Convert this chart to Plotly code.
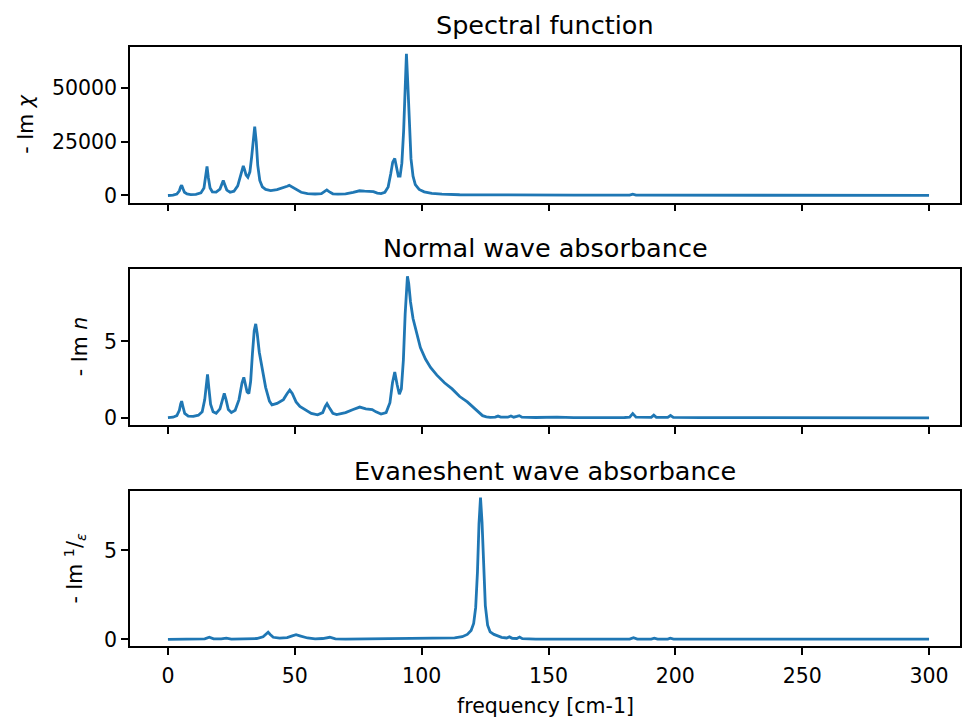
import plotly.graph_objects as go

# ---------------- data ----------------
freq_chi = [0, 2, 3.5, 4.5, 5.0, 5.4, 5.9, 6.5, 7.5, 9, 11, 13, 14.2, 14.9, 15.4, 15.9, 16.6, 17.5,
            19, 20.5, 21.2, 21.8, 22.4, 23.2, 24.5, 26, 27.5, 28.6, 29.3, 29.7, 30.2, 30.8, 31.5,
            32.3, 33.0, 33.6, 34.2, 34.8, 35.4, 36.2, 37.2, 38.5, 40.5, 43, 45.5, 47, 47.8, 48.8,
            50.5, 52.5, 55, 58, 60.5, 61.8, 62.6, 63.5, 65, 67, 70, 73, 75.5, 77.5, 79.5, 81, 82.5,
            84, 85.5, 86.8, 87.8, 88.6, 89.4, 90.1, 90.8, 91.5, 92.2, 92.9, 93.5, 94.0, 94.5, 95.1,
            95.8, 96.6, 97.5, 99, 101, 104, 108, 115, 125, 140, 160, 182, 183.2, 184.5, 190.5,
            191.5, 192.5, 197, 198.1, 199.2, 210, 250, 300]
im_chi = [0, 150, 700, 2200, 4000, 4800, 3200, 1500, 700, 450, 550, 1200, 3500, 9000, 13500, 8500,
          3500, 1700, 1600, 3000, 5500, 7000, 5000, 2500, 1500, 2000, 4500, 9500, 13000, 13700,
          12000, 9500, 8500, 11000, 18000, 27000, 32000, 25000, 14000, 7000, 4000, 2800, 2300,
          2700, 3500, 4300, 4700, 4000, 2500, 1500, 900, 700, 900, 1800, 2600, 1800, 800, 600,
          800, 1500, 2200, 2000, 2000, 1800, 1100, 900, 1500, 4000, 10000, 15500, 17200, 13000,
          9000, 9000, 15000, 30000, 52000, 65800, 53000, 32000, 17000, 9000, 5000, 2800, 1700,
          1000, 600, 350, 250, 200, 150, 150, 600, 150, 150, 400, 150, 120, 400, 120, 100, 80, 60]

freq_n = [0, 2, 3.5, 4.5, 5.0, 5.4, 5.9, 6.6, 8, 10, 12, 13.5, 14.5, 15.1, 15.6, 16.1, 16.8, 17.8,
          19, 20.5, 21.5, 22.2, 22.9, 23.8, 25, 26.5, 28, 29.2, 29.9, 30.5, 31.2, 31.9, 32.6, 33.3,
          34.0, 34.6, 35.2, 36, 37, 38.5, 40, 41, 43, 45.5, 47, 48, 49, 50.5, 52, 54, 56.5, 59, 61,
          62, 62.7, 63.5, 65, 66.5, 70, 73, 75.6, 78, 80.5, 82, 84, 86, 87.5, 88.5, 89.4, 90.3,
          91.2, 92, 92.8, 93.5, 94.0, 94.4, 94.9, 95.6, 96.6, 98, 99.5, 101.5, 103.5, 106, 109,
          112, 115, 118, 120.5, 122.5, 124, 125.5, 127, 129, 130.1, 131.2, 134, 135.2, 136.3,
          137.5, 138.5, 139.5, 145, 153.4, 160, 180, 182, 183.2, 184.5, 190.5, 191.5, 192.5, 197,
          198.1, 199.2, 210, 250, 300]
im_n = [0.02, 0.05, 0.15, 0.5, 0.9, 1.1, 0.75, 0.3, 0.12, 0.1, 0.18, 0.4, 1.2, 2.3, 2.85, 2.0, 0.9,
        0.4, 0.3, 0.6, 1.3, 1.6, 1.2, 0.55, 0.35, 0.5, 1.2, 2.3, 2.65, 2.2, 1.7, 1.6, 2.4, 4.2,
        5.7, 6.15, 5.5, 4.3, 3.3, 2.0, 1.1, 0.85, 0.95, 1.2, 1.6, 1.82, 1.6, 1.05, 0.75, 0.55, 0.3,
        0.2, 0.35, 0.75, 0.93, 0.7, 0.3, 0.22, 0.35, 0.55, 0.71, 0.6, 0.55, 0.4, 0.25, 0.35, 1.0,
        2.3, 3.0, 2.2, 1.55, 1.9, 3.8, 6.8, 8.8, 9.27, 8.8, 7.6, 6.5, 5.5, 4.6, 3.85, 3.3, 2.8,
        2.3, 1.9, 1.4, 1.05, 0.65, 0.35, 0.15, 0.07, 0.04, 0.05, 0.12, 0.05, 0.05, 0.13, 0.05,
        0.1, 0.15, 0.05, 0.03, 0.05, 0.02, 0.03, 0.05, 0.28, 0.05, 0.04, 0.18, 0.04, 0.04, 0.16,
        0.04, 0.02, 0.01, 0.01]

freq_eps = [0, 5, 10, 14.5, 16.3, 18, 21, 23, 25, 30, 35, 37.5, 38.8, 39.5, 40.3, 41.5, 44, 47, 49,
            50.5, 52, 55, 58, 61, 63.8, 66, 70, 80, 90, 100, 108, 113, 116, 118, 119.5, 120.5,
            121.3, 122, 122.6, 123.2, 123.8, 124.4, 125.1, 126, 127, 128.5, 130, 131.5, 133.5,
            134.6, 135.7, 137.5, 138.6, 139.7, 145, 153.4, 160, 182, 183.5, 185, 190.5, 191.7, 193,
            197, 198, 199.3, 210, 250, 300]
im_inv_eps = [0, 0.02, 0.01, 0.03, 0.12, 0.03, 0.03, 0.07, 0.02, 0.03, 0.05, 0.15, 0.33, 0.4, 0.28,
              0.12, 0.07, 0.1, 0.2, 0.26, 0.2, 0.08, 0.03, 0.05, 0.12, 0.03, 0.02, 0.03, 0.02,
              0.03, 0.05, 0.08, 0.15, 0.28, 0.5, 0.9, 1.8, 3.8, 6.5, 7.97, 6.6, 4.0, 1.9, 0.8,
              0.42, 0.28, 0.18, 0.12, 0.08, 0.14, 0.06, 0.05, 0.13, 0.04, 0.02, 0.04, 0.02, 0.02,
              0.1, 0.02, 0.02, 0.07, 0.02, 0.02, 0.07, 0.02, 0.01, 0.01, 0.01]

titles = ["Spectral function", "Normal wave absorbance", "Evaneshent wave absorbance"]
ylabels = ["- Im <i>χ</i>", "- Im <i>n</i>", "- Im <sup>1</sup>/<sub><i>ε</i></sub>"]
x_ticks = [0, 50, 100, 150, 200, 250, 300]
y_ticks = [[0, 25000, 50000], [0, 5], [0, 5]]
y_ticktext = [["0", "25000", "50000"], ["0", "5"], ["0", "5"]]
x_label = "frequency [cm-1]"

# ---------------- figure ----------------
W, H = 962, 721
ML, MR = 130, 1
FONT = "DejaVu Sans, Liberation Sans, sans-serif"
LINE = "#1f77b4"
TXT = "black"
FS = 20.5
FS_TITLE = 25.5

# panel pixel boxes (top, bottom)
boxes = [(47, 204), (271, 428), (494, 651)]
yranges = [[-3290, 69090], [-0.4635, 9.7335], [-0.3985, 8.3685]]
ylabel_x = [26, 80, 75]
title_y = [25, 250, 474]

fig = go.Figure()
series = [(freq_chi, im_chi), (freq_n, im_n), (freq_eps, im_inv_eps)]
for i, (xs, ys) in enumerate(series):
    suffix = "" if i == 0 else str(i + 1)
    fig.add_trace(go.Scatter(x=xs, y=ys, mode="lines",
                             line=dict(color=LINE, width=2.8),
                             xaxis="x" + suffix, yaxis="y" + suffix,
                             showlegend=False, hoverinfo="skip"))

layout = dict(width=W, height=H, margin=dict(l=ML, r=MR, t=0, b=0),
              plot_bgcolor="white", paper_bgcolor="white",
              font=dict(family=FONT, size=FS, color=TXT),
              showlegend=False)

annotations = []
pw = W - ML - MR
for i, (top, bot) in enumerate(boxes):
    suffix = "" if i == 0 else str(i + 1)
    dom = [1 - bot / H, 1 - top / H]
    layout["xaxis" + suffix] = dict(
        domain=[0, 1], anchor="y" + suffix, range=[-14.96, 312.2],
        tickmode="array", tickvals=x_ticks, ticktext=[str(v) for v in x_ticks],
        showticklabels=(i == 2),
        ticks="outside", ticklen=7, tickwidth=1.5, tickcolor="black",
        showline=True, linecolor="black", linewidth=1.5, mirror=True,
        showgrid=False, zeroline=False, ticklabelstandoff=3,
        tickfont=dict(family=FONT, size=FS, color=TXT),
    )
    layout["yaxis" + suffix] = dict(
        domain=dom, anchor="x" + suffix, range=yranges[i],
        tickmode="array", tickvals=y_ticks[i], ticktext=y_ticktext[i],
        ticks="outside", ticklen=7, tickwidth=1.5, tickcolor="black",
        showline=True, linecolor="black", linewidth=1.5, mirror=True,
        showgrid=False, zeroline=False,
        tickfont=dict(family=FONT, size=FS, color=TXT),
    )
    annotations.append(dict(text=titles[i], xref="paper", yref="paper",
                            x=0.5, y=1 - title_y[i] / H, xanchor="center", yanchor="middle",
                            showarrow=False,
                            font=dict(family=FONT, size=FS_TITLE, color=TXT)))
    annotations.append(dict(text=ylabels[i], xref="paper", yref="paper",
                            x=(ylabel_x[i] - ML) / pw, y=(dom[0] + dom[1]) / 2,
                            xanchor="center", yanchor="middle", textangle=-90,
                            showarrow=False,
                            font=dict(family=FONT, size=FS, color=TXT)))

annotations.append(dict(text=x_label, xref="paper", yref="paper",
                        x=0.5, y=1 - 711 / H, xanchor="center", yanchor="middle",
                        showarrow=False, font=dict(family=FONT, size=FS, color=TXT)))
layout["annotations"] = annotations
fig.update_layout(**layout)
fig.write_html("out.html")
